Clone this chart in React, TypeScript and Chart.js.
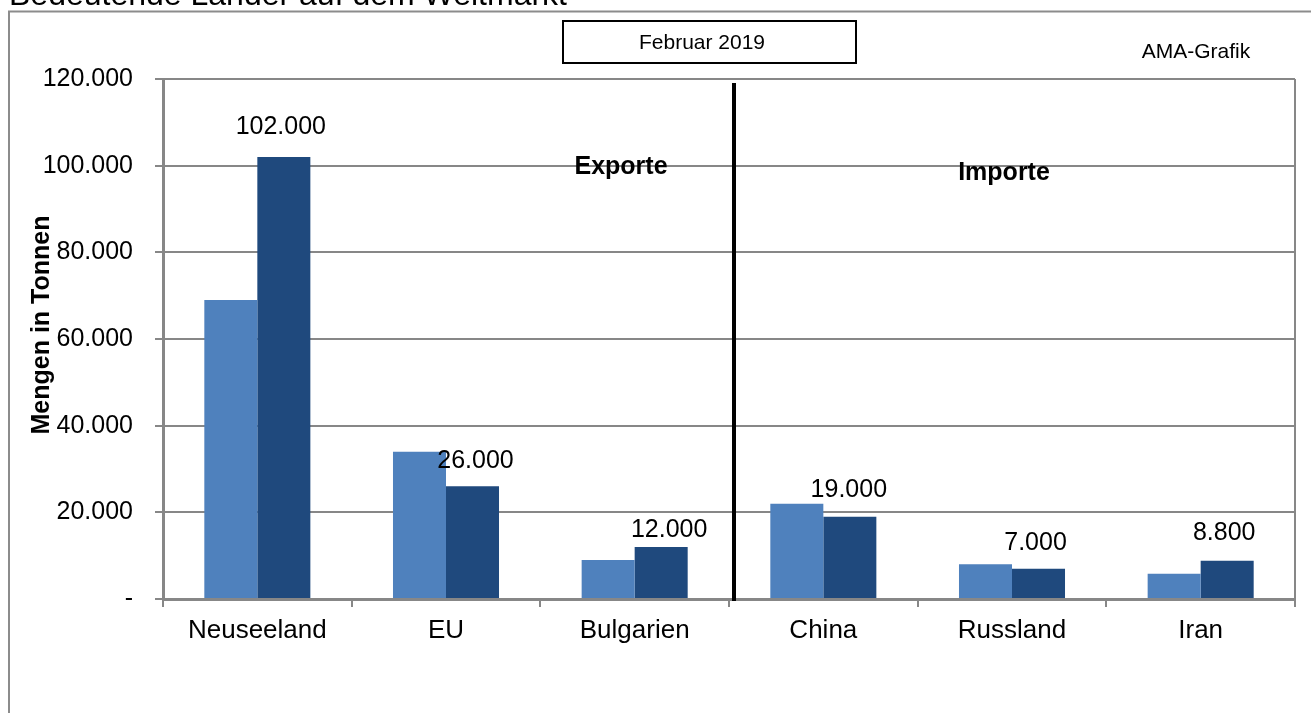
import React, { useEffect, useRef } from "react";
import { Chart, registerables } from "chart.js";

Chart.register(...registerables);

const categories = ["Neuseeland", "EU", "Bulgarien", "China", "Russland", "Iran"];
const seriesLight = [69000, 34000, 9000, 22000, 8000, 5800];
const seriesDark = [102000, 26000, 12000, 19000, 7000, 8800];
const yTicks = [0, 20000, 40000, 60000, 80000, 100000, 120000];

const FONT = "'Liberation Sans', Arial, sans-serif";
const GRID = "#878787";

// label nudges (dx, dy from bar top) for the value labels of the dark series
const labelNudge: [number, number][] = [
  [-3, -30],
  [3, -25],
  [8, -17],
  [-1, -27],
  [-3, -26],
  [-3, -28],
];

function fmt(v: number): string {
  if (v === 0) return "-";
  return String(v).replace(/\B(?=(\d{3})+(?!\d))/g, ".");
}

const overlayPlugin = {
  id: "overlay",
  afterDraw(chart: any) {
    const ctx = chart.ctx as CanvasRenderingContext2D;
    const area = chart.chartArea;
    const xs = chart.scales.x;
    ctx.save();

    // outer frame
    ctx.strokeStyle = "#8c8c8c";
    ctx.lineWidth = 2;
    ctx.beginPath();
    ctx.moveTo(9, 760);
    ctx.lineTo(9, 11.5);
    ctx.lineTo(1320, 11.5);
    ctx.stroke();

    // title (cut at top)
    ctx.fillStyle = "#000";
    ctx.font = `32px ${FONT}`;
    ctx.textAlign = "left";
    ctx.textBaseline = "alphabetic";
    ctx.fillText("Bedeutende Länder auf dem Weltmarkt", 9, 5);

    // Februar box
    ctx.fillStyle = "#fff";
    ctx.fillRect(563, 21, 293, 42);
    ctx.strokeStyle = "#000";
    ctx.lineWidth = 2;
    ctx.strokeRect(563, 21, 293, 42);
    ctx.fillStyle = "#000";
    ctx.font = `21px ${FONT}`;
    ctx.textAlign = "center";
    ctx.textBaseline = "middle";
    ctx.fillText("Februar 2019", 702, 43);

    ctx.fillText("AMA-Grafik", 1196, 52);

    // right border of plot area
    ctx.strokeStyle = GRID;
    ctx.lineWidth = 2;
    ctx.beginPath();
    ctx.moveTo(area.right, area.top);
    ctx.lineTo(area.right, area.bottom + 8);
    ctx.stroke();

    // separator line
    const sepX = (xs.getPixelForValue(2) + xs.getPixelForValue(3)) / 2 + 5;
    ctx.strokeStyle = "#000";
    ctx.lineWidth = 4;
    ctx.beginPath();
    ctx.moveTo(sepX, area.top + 4);
    ctx.lineTo(sepX, area.bottom + 2);
    ctx.stroke();

    // section labels
    ctx.fillStyle = "#000";
    ctx.font = `bold 25px ${FONT}`;
    ctx.textAlign = "center";
    ctx.textBaseline = "middle";
    ctx.fillText("Exporte", 621, 167);
    ctx.fillText("Importe", 1004, 173);

    // y axis title
    ctx.save();
    ctx.translate(42, 325);
    ctx.rotate(-Math.PI / 2);
    ctx.fillText("Mengen in Tonnen", 0, 0);
    ctx.restore();

    // value labels for dark series
    const meta = chart.getDatasetMeta(1);
    ctx.font = `25px ${FONT}`;
    meta.data.forEach((el: any, i: number) => {
      const [dx, dy] = labelNudge[i];
      ctx.fillText(fmt(seriesDark[i]), el.x + dx, el.y + dy);
    });

    ctx.restore();
  },
};

export default function App() {
  const ref = useRef<HTMLCanvasElement>(null);

  useEffect(() => {
    if (!ref.current) return;
    const chart = new Chart(ref.current, {
      type: "bar",
      data: {
        labels: categories,
        datasets: [
          {
            label: "Vorjahr",
            data: seriesLight,
            backgroundColor: "#4F81BD",
            borderWidth: 0,
          },
          {
            label: "Aktuell",
            data: seriesDark,
            backgroundColor: "#1F497D",
            borderWidth: 0,
          },
        ],
      },
      options: {
        animation: false,
        responsive: false,
        maintainAspectRatio: false,
        layout: { padding: { left: 0, top: 79, right: 16, bottom: 0 } },
        datasets: {
          bar: { categoryPercentage: 0.562, barPercentage: 1 },
        },
        plugins: {
          legend: { display: false },
          title: { display: false },
          tooltip: { enabled: false },
        },
        scales: {
          x: {
            afterFit: (s: any) => {
              s.height = 114;
            },
            grid: {
              drawOnChartArea: false,
              drawTicks: true,
              tickLength: 8,
              color: GRID,
              lineWidth: 2,
            },
            border: { display: true, color: GRID, width: 3 },
            ticks: {
              color: "#000",
              font: { family: FONT, size: 26 },
              padding: 8,
            },
          },
          y: {
            min: 0,
            max: 120000,
            afterFit: (s: any) => {
              s.width = 163;
            },
            afterBuildTicks: (s: any) => {
              s.ticks = yTicks.map((v) => ({ value: v }));
            },
            grid: {
              color: GRID,
              lineWidth: 2,
              tickLength: 8,
            },
            border: { display: true, color: GRID, width: 3 },
            ticks: {
              color: "#000",
              font: { family: FONT, size: 25 },
              padding: 22,
              callback: (v: any) => fmt(Number(v)),
            },
          },
        },
      },
      plugins: [overlayPlugin],
    });
    return () => chart.destroy();
  }, []);

  return (
    <div style={{ position: "fixed", left: 0, top: 0, width: 1311, height: 713, background: "#fff" }}>
      <canvas ref={ref} width={1311} height={713} style={{ display: "block", width: 1311, height: 713 }} />
    </div>
  );
}
